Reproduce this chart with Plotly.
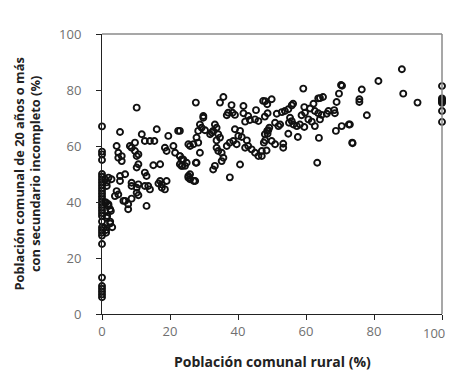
import plotly.graph_objects as go

# Rural population share (%) of each comuna
rural_pct = [
    # comunas with 0% rural
    0, 0, 0, 0, 0, 0, 0, 0, 0, 0, 0, 0, 0, 0, 0, 0, 0, 0, 0, 0, 0, 0, 0, 0, 0, 0, 0, 0, 0, 0, 0, 0,
    # near-zero
    1.9, 0.9, 1.4, 1.9, 0.9, 2.4, 1.5, 2.4, 1.2, 3.0, 2.8, 1.4, 1.2, 1.9, 2.6, 1.4, 2.4, 0.6, 1.2,
    # 3-25
    10.2, 5.3, 11.7, 14.1, 12.6, 9.7, 8.7, 8.2, 9.7, 10.7, 10.2, 16.1, 19.5, 22.4, 15.4,
    18.5, 19.0, 21.0, 21.5, 22.9, 23.4, 23.6, 4.3, 4.8, 5.8, 4.8, 5.8,
    10.7, 10.2, 12.6, 13.1, 15.1, 17.1, 5.3, 6.8, 5.3, 8.7, 8.7, 10.7, 10.2, 12.6, 13.6, 14.1,
    17.1, 19.0, 17.6, 18.5, 4.3, 4.8, 3.8, 6.8, 8.7, 10.7, 10.2, 7.7, 13.1, 7.7, 6.3, 17.6, 16.6,
    # 22-50
    35.7, 34.7, 38.1, 38.4, 37.1, 36.7, 39.1, 27.6, 41.6, 47.4, 48.6, 45.3,
    41.6, 43.0, 43.5, 42.1, 45.0, 46.0, 29.8, 28.8, 29.3, 28.3, 30.3,
    33.2, 33.7, 32.7, 32.3, 31.8, 34.2, 34.7, 33.7, 22.9, 27.8, 28.3, 26.9, 25.4, 25.9,
    39.1, 40.6, 40.1, 41.1, 38.6, 37.6, 39.6, 42.6, 43.0, 42.1, 44.0, 45.0, 47.0, 47.6, 47.9,
    48.6, 49.2, 47.0, 46.0, 33.7, 34.2, 35.2, 35.7, 35.2, 36.7, 28.8, 27.8, 22.9, 24.9, 23.9, 23.4,
    33.2, 32.7, 40.6, 25.4, 25.9, 27.4, 37.6, 22.9, 25.9, 27.0, 25.4, 24.4, 27.6, 29.8,
    # 48-75
    59.2, 70.3, 70.6, 69.7, 69.0, 65.0, 64.1, 49.9, 48.0, 56.2, 55.8, 62.2, 59.5, 61.2,
    54.8, 53.8, 52.9, 51.4, 48.7, 47.9, 68.3, 68.5, 66.6, 66.1, 62.6, 63.6, 64.6, 64.1,
    58.7, 59.7, 60.7, 61.7, 55.3, 55.8, 55.0, 56.3, 57.3, 58.2, 59.5, 50.9, 51.9, 52.4,
    48.9, 48.7, 62.6, 54.8, 57.6, 68.8, 70.5, 72.6, 63.8, 49.9, 50.9, 53.3, 53.3, 48.0, 48.4,
    73.6, 63.3, 63.6,
    # 72-95
    88.2, 81.3, 76.4, 75.7, 75.7, 88.6, 92.8, 77.9, 72.9, 73.7,
    # 100% rural
    100, 100, 100, 100, 100, 100, 100, 100,
]

# Population aged 20+ with incomplete secondary education (%)
incomplete_sec_pct = [
    67, 58, 57, 55, 50, 49, 48, 47, 46, 45, 44, 43, 42, 41, 40, 39, 38, 37, 36, 35, 33, 31, 30, 29, 28, 25,
    13, 10, 9, 8, 7, 6,
    48.7, 48.1, 45.7, 38.6, 39.8, 37.4, 35.0, 33.0, 30.0, 31.0, 48.1, 47.0, 39.8, 39.2, 36.8, 34.4, 32.3, 30.8, 29.0,
    73.7, 65.0, 64.2, 61.8, 61.8, 61.2, 59.4, 60.0, 58.2, 57.0, 56.4, 66.0, 63.6, 65.4, 61.8,
    59.4, 58.2, 60.0, 57.6, 56.4, 55.2, 52.9, 60.0, 57.6, 56.4, 55.8, 54.6,
    53.5, 52.3, 50.5, 49.3, 53.1, 53.5, 49.3, 49.9, 47.5, 46.9, 45.7, 46.3, 45.1, 45.7, 45.7, 44.5,
    47.5, 47.5, 46.3, 44.5, 43.9, 42.7, 42.1, 40.4, 41.2, 42.4, 43.3, 39.2, 38.6, 37.4, 40.4, 45.1, 46.6,
    77.5, 75.5, 74.6, 71.9, 71.9, 71.0, 71.1, 75.5, 74.3, 76.1, 74.9, 72.8,
    71.7, 70.7, 69.3, 68.7, 69.5, 68.9, 70.7, 67.7, 66.5, 65.4, 65.6,
    67.7, 66.5, 65.4, 64.8, 64.2, 64.2, 63.0, 62.0, 65.4, 63.0, 61.2, 60.6, 60.6, 60.0,
    66.0, 65.4, 63.6, 63.2, 61.8, 61.2, 60.6, 62.0, 60.0, 59.4, 58.8, 57.6, 58.2, 61.2, 64.2,
    65.4, 66.5, 56.4, 56.4, 59.4, 58.2, 57.6, 55.8, 54.6, 60.0, 57.6, 54.0, 56.4, 54.0, 55.2, 52.9,
    52.9, 51.6, 53.4, 49.3, 48.1, 47.5, 48.8, 53.5, 49.9, 47.5, 48.7, 52.9, 54.0, 70.1,
    80.5, 81.8, 81.5, 78.7, 75.7, 77.5, 77.1, 76.7, 76.0, 75.1, 74.5, 75.1, 73.9, 73.4,
    73.1, 72.5, 72.1, 71.5, 71.7, 70.5, 72.8, 71.7, 72.5, 71.5, 72.5, 71.7, 71.1, 69.5,
    71.0, 71.9, 69.5, 68.7, 70.1, 68.9, 68.3, 67.7, 67.1, 67.7, 66.8, 68.3, 67.1, 67.7,
    65.6, 64.4, 67.1, 64.4, 63.2, 65.4, 67.1, 67.7, 62.9, 61.8, 60.6, 60.8, 59.4, 62.0, 58.4,
    61.2, 54.0, 77.0,
    87.4, 83.2, 80.2, 76.7, 75.7, 78.7, 75.5, 71.0, 67.7, 61.0,
    81.4, 77.0, 76.6, 76.2, 75.8, 75.4, 72.5, 68.6,
]

x_ticks = [0, 20, 40, 60, 80, 100]
x_tick_labels = ["0", "20", "40", "60", "80", "100"]
y_ticks = [0, 20, 40, 60, 80, 100]

fig = go.Figure()
fig.add_trace(go.Scatter(
    x=rural_pct, y=incomplete_sec_pct, mode="markers",
    marker=dict(symbol="circle-open", size=6, color="#111111", line=dict(width=1.9, color="#111111")),
    cliponaxis=False, hoverinfo="skip", showlegend=False,
))

tick_font = dict(family="Open Sans, Lato, sans-serif", size=13, color="#707070")
xtitle_font = dict(family="Open Sans, Lato, sans-serif", size=14, color="#222222")
ytitle_font = dict(family="Open Sans, Lato, sans-serif", size=12.8, color="#222222")

# last x tick label sits flush against the right edge, drawn as an annotation so it isn't clipped
shown_x_labels = x_tick_labels[:-1] + [""]

fig.update_layout(
    width=451, height=370,
    margin=dict(l=102, r=9, t=34, b=56),
    paper_bgcolor="white", plot_bgcolor="white",
    xaxis=dict(range=[0, 100], tickvals=x_ticks, ticktext=shown_x_labels, ticks="outside", ticklen=5,
               tickcolor="#222", showline=True, linecolor="#222", linewidth=1, showgrid=False,
               zeroline=False, tickfont=tick_font, automargin=False, fixedrange=True),
    yaxis=dict(range=[0, 100], tickvals=y_ticks, ticks="outside", ticklen=5, tickcolor="#222",
               showline=True, linecolor="#222", linewidth=1, showgrid=False, zeroline=False,
               tickfont=tick_font, ticklabelstandoff=12, ticklabeloverflow="allow",
               automargin=False, fixedrange=True),
    shapes=[
        dict(type="line", xref="paper", yref="paper", x0=0, x1=1, y0=1, y1=1,
             line=dict(color="#8a8a8a", width=1.5)),
        dict(type="line", xref="paper", yref="paper", x0=1, x1=1, y0=0, y1=1,
             line=dict(color="#8a8a8a", width=1.5)),
    ],
    annotations=[
        dict(text=x_tick_labels[-1], xref="x", yref="paper", x=x_ticks[-1], y=-0.068,
             xanchor="right", yanchor="middle", xshift=5, showarrow=False, font=tick_font),
        dict(text="<b>Población comunal rural (%)</b>", xref="paper", yref="paper",
             x=0.5, y=-0.168, xanchor="center", yanchor="middle", showarrow=False, font=xtitle_font),
        dict(text="<b>Población comunal de 20 años o más<br>con secundario incompleto (%)</b>",
             xref="paper", yref="paper", x=-0.222, y=0.5, xanchor="center", yanchor="middle",
             textangle=-90, showarrow=False, font=ytitle_font),
    ],
)

fig.write_html(
    "out.html",
    config={"displayModeBar": False},
    post_script="document.body.style.margin='0';document.body.style.overflow='hidden';",
)
